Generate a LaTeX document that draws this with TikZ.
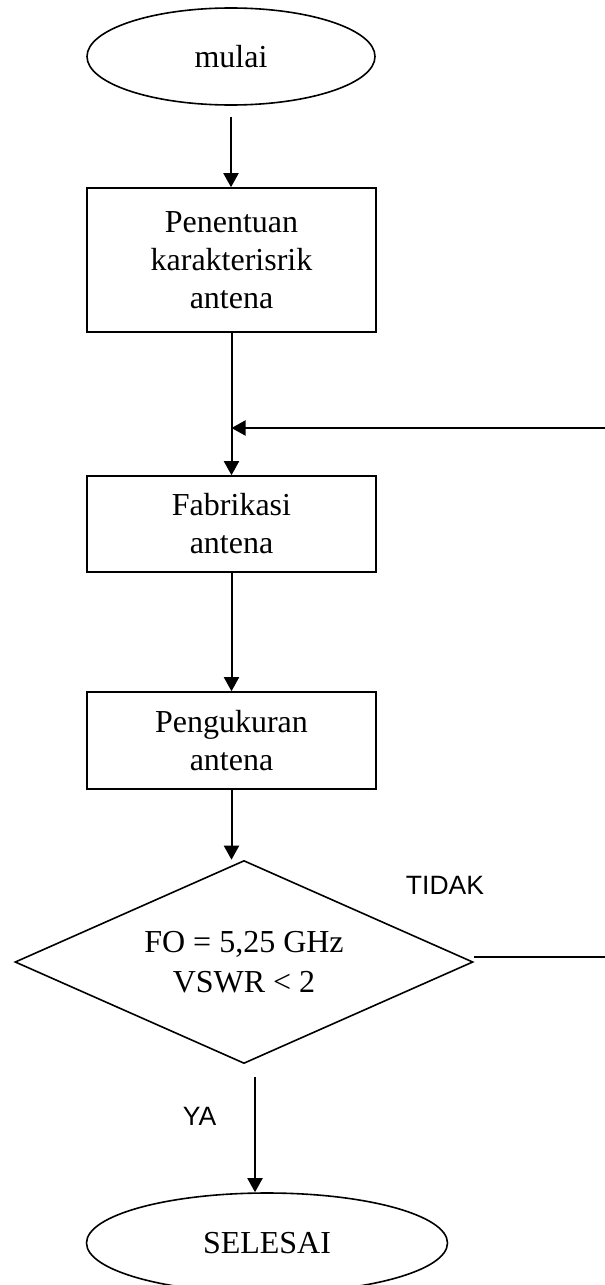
\documentclass[tikz,border=0pt]{standalone}
\usepackage{fontspec}
\setmainfont{Liberation Serif}
\newfontfamily\arialfont{Liberation Sans}
\usetikzlibrary{shapes.geometric,arrows.meta}
\begin{document}
\begin{tikzpicture}[x=1pt,y=1pt,font=\fontsize{16}{19}\selectfont,
  proses/.style={draw,line width=0.8pt,minimum width=144.5pt,inner sep=0pt,align=center},
  ujung/.style={draw,ellipse,line width=0.8pt,inner sep=0pt},
  arr/.style={line width=1pt,-{Triangle[length=7pt,width=7.5pt]}},
  ket/.style={font=\arialfont\fontsize{13.25}{16}\selectfont,inner sep=0pt}]
\useasboundingbox(0,0)rectangle(302.5,-642.5);
\clip(0,0)rectangle(302.5,-642.5);
\node[ujung,minimum width=144pt,minimum height=48.5pt](mulai)at(115.5,-28.25){mulai};
\node[proses,minimum height=72pt](tentu)at(115.75,-130){Penentuan\\karakterisrik\\antena};
\node[proses,minimum height=48pt](fabrik)at(115.75,-262){Fabrikasi\\antena};
\node[proses,minimum height=48.5pt](ukur)at(115.75,-370.25){Pengukuran\\antena};
\node[draw,diamond,line width=0.8pt,aspect=2.26,inner sep=0pt,minimum width=229pt,minimum height=101.5pt,align=center,font=\fontsize{16}{20}\selectfont](cek)at(122,-481){FO = 5,25 GHz\\VSWR < 2};
\node[ujung,minimum width=180.5pt,minimum height=50pt](selesai)at(133.5,-621.5){SELESAI};
\node[ket](tidak)at(222.5,-442.75){TIDAK};
\node[ket](ya)at(99.75,-558){YA};
\coordinate(balik)at(302.5,-214);
\coordinate(keluar)at(127.5,-538.5);
\draw[arr,shorten <=5.5pt](mulai.south)--(mulai.south|-tentu.north);
\draw[arr](tentu)--(fabrik);
\draw[arr](balik)--(balik-|tentu.south);
\draw[arr](fabrik)--(ukur);
\draw[arr](ukur.south)--(ukur.south|-cek.north);
\draw[line width=0.8pt]([yshift=2.5pt]cek.east)--([yshift=2.5pt]cek.east-|balik);
\draw[arr](keluar)--(keluar|-selesai.north);
\end{tikzpicture}
\end{document}
